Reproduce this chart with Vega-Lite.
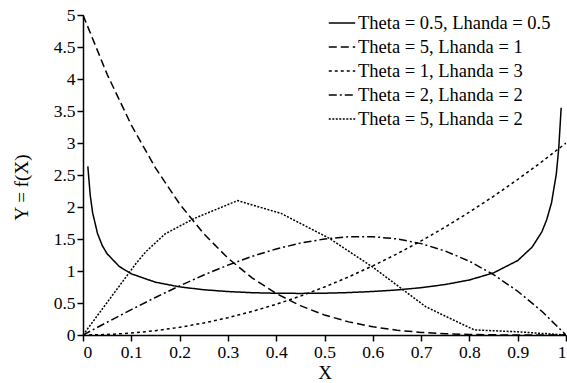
{
  "$schema": "https://vega.github.io/schema/vega-lite/v6.json",
  "width": 483,
  "height": 320,
  "autosize": {"type": "none"},
  "padding": {"left": 83, "top": 15, "right": 1, "bottom": 48},
  "background": "white",
  "data": {
    "values": [
      {"series": "Theta = 0.5, Lhanda = 0.5", "x": 0.01, "y": 2.635},
      {"series": "Theta = 0.5, Lhanda = 0.5", "x": 0.015, "y": 2.18},
      {"series": "Theta = 0.5, Lhanda = 0.5", "x": 0.02, "y": 1.908},
      {"series": "Theta = 0.5, Lhanda = 0.5", "x": 0.03, "y": 1.587},
      {"series": "Theta = 0.5, Lhanda = 0.5", "x": 0.04, "y": 1.395},
      {"series": "Theta = 0.5, Lhanda = 0.5", "x": 0.05, "y": 1.269},
      {"series": "Theta = 0.5, Lhanda = 0.5", "x": 0.075, "y": 1.071},
      {"series": "Theta = 0.5, Lhanda = 0.5", "x": 0.1, "y": 0.956},
      {"series": "Theta = 0.5, Lhanda = 0.5", "x": 0.15, "y": 0.825},
      {"series": "Theta = 0.5, Lhanda = 0.5", "x": 0.2, "y": 0.752},
      {"series": "Theta = 0.5, Lhanda = 0.5", "x": 0.25, "y": 0.707},
      {"series": "Theta = 0.5, Lhanda = 0.5", "x": 0.3, "y": 0.679},
      {"series": "Theta = 0.5, Lhanda = 0.5", "x": 0.35, "y": 0.661},
      {"series": "Theta = 0.5, Lhanda = 0.5", "x": 0.4, "y": 0.652},
      {"series": "Theta = 0.5, Lhanda = 0.5", "x": 0.45, "y": 0.65},
      {"series": "Theta = 0.5, Lhanda = 0.5", "x": 0.5, "y": 0.653},
      {"series": "Theta = 0.5, Lhanda = 0.5", "x": 0.55, "y": 0.663},
      {"series": "Theta = 0.5, Lhanda = 0.5", "x": 0.6, "y": 0.68},
      {"series": "Theta = 0.5, Lhanda = 0.5", "x": 0.65, "y": 0.704},
      {"series": "Theta = 0.5, Lhanda = 0.5", "x": 0.7, "y": 0.739},
      {"series": "Theta = 0.5, Lhanda = 0.5", "x": 0.75, "y": 0.789},
      {"series": "Theta = 0.5, Lhanda = 0.5", "x": 0.8, "y": 0.86},
      {"series": "Theta = 0.5, Lhanda = 0.5", "x": 0.85, "y": 0.971},
      {"series": "Theta = 0.5, Lhanda = 0.5", "x": 0.9, "y": 1.163},
      {"series": "Theta = 0.5, Lhanda = 0.5", "x": 0.93, "y": 1.374},
      {"series": "Theta = 0.5, Lhanda = 0.5", "x": 0.95, "y": 1.612},
      {"series": "Theta = 0.5, Lhanda = 0.5", "x": 0.96, "y": 1.8},
      {"series": "Theta = 0.5, Lhanda = 0.5", "x": 0.97, "y": 2.065},
      {"series": "Theta = 0.5, Lhanda = 0.5", "x": 0.98, "y": 2.519},
      {"series": "Theta = 0.5, Lhanda = 0.5", "x": 0.985, "y": 2.92},
      {"series": "Theta = 0.5, Lhanda = 0.5", "x": 0.99, "y": 3.55},

      {"series": "Theta = 5, Lhanda = 1", "x": 0, "y": 5},
      {"series": "Theta = 5, Lhanda = 1", "x": 0.05, "y": 4.073},
      {"series": "Theta = 5, Lhanda = 1", "x": 0.1, "y": 3.281},
      {"series": "Theta = 5, Lhanda = 1", "x": 0.15, "y": 2.61},
      {"series": "Theta = 5, Lhanda = 1", "x": 0.2, "y": 2.048},
      {"series": "Theta = 5, Lhanda = 1", "x": 0.25, "y": 1.582},
      {"series": "Theta = 5, Lhanda = 1", "x": 0.3, "y": 1.201},
      {"series": "Theta = 5, Lhanda = 1", "x": 0.35, "y": 0.893},
      {"series": "Theta = 5, Lhanda = 1", "x": 0.4, "y": 0.648},
      {"series": "Theta = 5, Lhanda = 1", "x": 0.45, "y": 0.458},
      {"series": "Theta = 5, Lhanda = 1", "x": 0.5, "y": 0.3125},
      {"series": "Theta = 5, Lhanda = 1", "x": 0.55, "y": 0.205},
      {"series": "Theta = 5, Lhanda = 1", "x": 0.6, "y": 0.128},
      {"series": "Theta = 5, Lhanda = 1", "x": 0.65, "y": 0.075},
      {"series": "Theta = 5, Lhanda = 1", "x": 0.7, "y": 0.0405},
      {"series": "Theta = 5, Lhanda = 1", "x": 0.75, "y": 0.0195},
      {"series": "Theta = 5, Lhanda = 1", "x": 0.8, "y": 0.008},
      {"series": "Theta = 5, Lhanda = 1", "x": 0.85, "y": 0.0025},
      {"series": "Theta = 5, Lhanda = 1", "x": 0.9, "y": 0.0005},
      {"series": "Theta = 5, Lhanda = 1", "x": 0.95, "y": 0.00003},
      {"series": "Theta = 5, Lhanda = 1", "x": 1, "y": 0},

      {"series": "Theta = 1, Lhanda = 3", "x": 0, "y": 0},
      {"series": "Theta = 1, Lhanda = 3", "x": 0.05, "y": 0.0075},
      {"series": "Theta = 1, Lhanda = 3", "x": 0.1, "y": 0.03},
      {"series": "Theta = 1, Lhanda = 3", "x": 0.15, "y": 0.0675},
      {"series": "Theta = 1, Lhanda = 3", "x": 0.2, "y": 0.12},
      {"series": "Theta = 1, Lhanda = 3", "x": 0.25, "y": 0.1875},
      {"series": "Theta = 1, Lhanda = 3", "x": 0.3, "y": 0.27},
      {"series": "Theta = 1, Lhanda = 3", "x": 0.35, "y": 0.3675},
      {"series": "Theta = 1, Lhanda = 3", "x": 0.4, "y": 0.48},
      {"series": "Theta = 1, Lhanda = 3", "x": 0.45, "y": 0.6075},
      {"series": "Theta = 1, Lhanda = 3", "x": 0.5, "y": 0.75},
      {"series": "Theta = 1, Lhanda = 3", "x": 0.55, "y": 0.9075},
      {"series": "Theta = 1, Lhanda = 3", "x": 0.6, "y": 1.08},
      {"series": "Theta = 1, Lhanda = 3", "x": 0.65, "y": 1.2675},
      {"series": "Theta = 1, Lhanda = 3", "x": 0.7, "y": 1.47},
      {"series": "Theta = 1, Lhanda = 3", "x": 0.75, "y": 1.6875},
      {"series": "Theta = 1, Lhanda = 3", "x": 0.8, "y": 1.92},
      {"series": "Theta = 1, Lhanda = 3", "x": 0.85, "y": 2.1675},
      {"series": "Theta = 1, Lhanda = 3", "x": 0.9, "y": 2.43},
      {"series": "Theta = 1, Lhanda = 3", "x": 0.95, "y": 2.7075},
      {"series": "Theta = 1, Lhanda = 3", "x": 1, "y": 3},

      {"series": "Theta = 2, Lhanda = 2", "x": 0, "y": 0},
      {"series": "Theta = 2, Lhanda = 2", "x": 0.05, "y": 0.1995},
      {"series": "Theta = 2, Lhanda = 2", "x": 0.1, "y": 0.396},
      {"series": "Theta = 2, Lhanda = 2", "x": 0.15, "y": 0.5865},
      {"series": "Theta = 2, Lhanda = 2", "x": 0.2, "y": 0.768},
      {"series": "Theta = 2, Lhanda = 2", "x": 0.25, "y": 0.9375},
      {"series": "Theta = 2, Lhanda = 2", "x": 0.3, "y": 1.092},
      {"series": "Theta = 2, Lhanda = 2", "x": 0.35, "y": 1.2285},
      {"series": "Theta = 2, Lhanda = 2", "x": 0.4, "y": 1.344},
      {"series": "Theta = 2, Lhanda = 2", "x": 0.45, "y": 1.4355},
      {"series": "Theta = 2, Lhanda = 2", "x": 0.5, "y": 1.5},
      {"series": "Theta = 2, Lhanda = 2", "x": 0.55, "y": 1.5345},
      {"series": "Theta = 2, Lhanda = 2", "x": 0.6, "y": 1.536},
      {"series": "Theta = 2, Lhanda = 2", "x": 0.65, "y": 1.5015},
      {"series": "Theta = 2, Lhanda = 2", "x": 0.7, "y": 1.428},
      {"series": "Theta = 2, Lhanda = 2", "x": 0.75, "y": 1.3125},
      {"series": "Theta = 2, Lhanda = 2", "x": 0.8, "y": 1.152},
      {"series": "Theta = 2, Lhanda = 2", "x": 0.85, "y": 0.9435},
      {"series": "Theta = 2, Lhanda = 2", "x": 0.9, "y": 0.684},
      {"series": "Theta = 2, Lhanda = 2", "x": 0.95, "y": 0.3705},
      {"series": "Theta = 2, Lhanda = 2", "x": 1, "y": 0},

      {"series": "Theta = 5, Lhanda = 2", "x": 0, "y": 0},
      {"series": "Theta = 5, Lhanda = 2", "x": 0.11, "y": 1.12},
      {"series": "Theta = 5, Lhanda = 2", "x": 0.13, "y": 1.3},
      {"series": "Theta = 5, Lhanda = 2", "x": 0.17, "y": 1.58},
      {"series": "Theta = 5, Lhanda = 2", "x": 0.23, "y": 1.82},
      {"series": "Theta = 5, Lhanda = 2", "x": 0.32, "y": 2.1},
      {"series": "Theta = 5, Lhanda = 2", "x": 0.41, "y": 1.9},
      {"series": "Theta = 5, Lhanda = 2", "x": 0.51, "y": 1.51},
      {"series": "Theta = 5, Lhanda = 2", "x": 0.6, "y": 1.06},
      {"series": "Theta = 5, Lhanda = 2", "x": 0.71, "y": 0.44},
      {"series": "Theta = 5, Lhanda = 2", "x": 0.81, "y": 0.08},
      {"series": "Theta = 5, Lhanda = 2", "x": 0.9, "y": 0.05},
      {"series": "Theta = 5, Lhanda = 2", "x": 1, "y": 0}
    ]
  },
  "mark": {"type": "line", "stroke": "black", "strokeWidth": 1.5, "clip": true},
  "encoding": {
    "x": {
      "field": "x", "type": "quantitative", "title": "X",
      "scale": {"domain": [0, 1], "nice": false},
      "axis": {"values": [0, 0.1, 0.2, 0.3, 0.4, 0.5, 0.6, 0.7, 0.8, 0.9, 1], "format": "~g", "titlePadding": 3}
    },
    "y": {
      "field": "y", "type": "quantitative", "title": "Y = f(X)",
      "scale": {"domain": [0, 5], "nice": false},
      "axis": {"values": [0, 0.5, 1, 1.5, 2, 2.5, 3, 3.5, 4, 4.5, 5], "format": "~g", "titlePadding": 22, "titleY": 172}
    },
    "strokeDash": {
      "field": "series", "type": "nominal",
      "scale": {
        "domain": ["Theta = 0.5, Lhanda = 0.5", "Theta = 5, Lhanda = 1", "Theta = 1, Lhanda = 3", "Theta = 2, Lhanda = 2", "Theta = 5, Lhanda = 2"],
        "range": [[1, 0], [8, 4], [3, 3], [8, 3, 2, 3], [2, 1.5]]
      },
      "legend": {
        "title": null, "orient": "none", "legendX": 245, "legendY": -6,
        "symbolType": "stroke", "symbolSize": 700, "symbolStrokeColor": "black", "symbolStrokeWidth": 1.5,
        "labelFont": "Liberation Serif, Times New Roman, serif", "labelFontSize": 18.5, "labelColor": "black", "labelOffset": 2, "labelLimit": 0, "rowPadding": -2
      }
    }
  },
  "config": {
    "view": {"stroke": null},
    "axis": {
      "grid": false, "domainColor": "black", "domainWidth": 1.5, "tickColor": "black", "tickWidth": 1.5, "tickSize": 6,
      "labelFont": "Liberation Serif, Times New Roman, serif", "labelFontSize": 17.5, "labelColor": "black", "labelPadding": 2,
      "titleFont": "Liberation Serif, Times New Roman, serif", "titleFontSize": 19, "titleFontWeight": "normal", "titleColor": "black"
    }
  }
}
